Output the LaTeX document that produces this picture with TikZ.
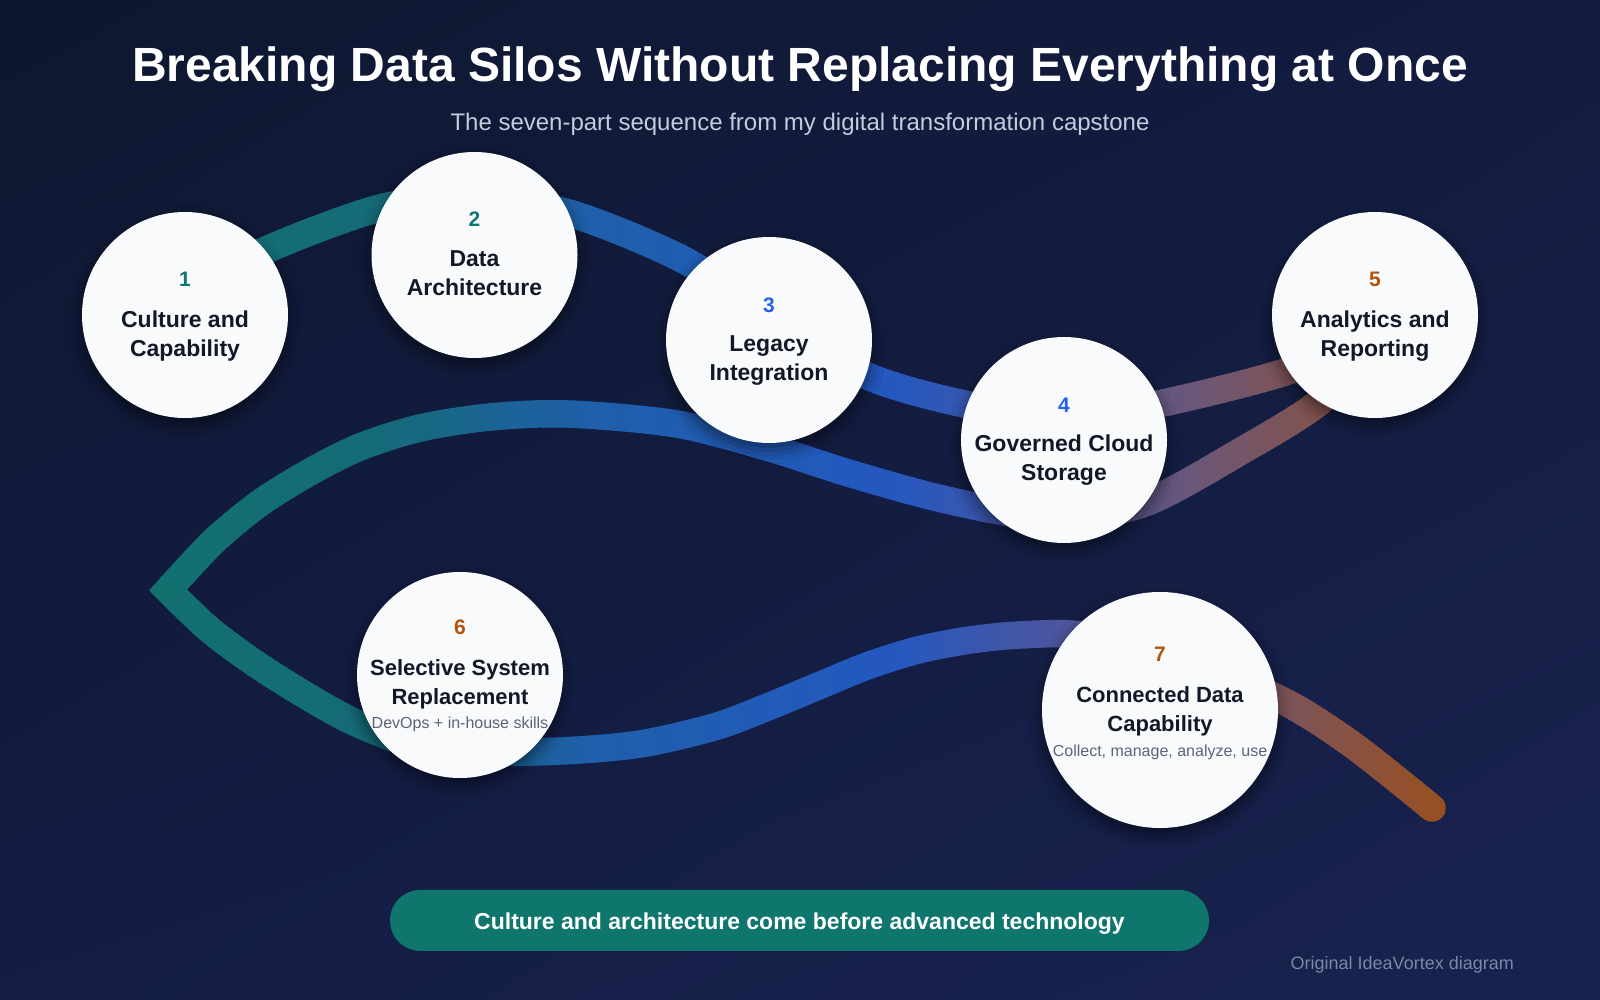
\documentclass[tikz,border=0pt]{standalone}
\usepackage{fontspec}
\setmainfont{Liberation Sans}
\usetikzlibrary{calc,shadows.blur,shadings}
\definecolor{gA}{HTML}{11726E}
\definecolor{gB}{HTML}{156A78}
\definecolor{gC}{HTML}{1F5FAB}
\definecolor{gD}{HTML}{2458C0}
\definecolor{gE}{HTML}{4A55A0}
\definecolor{gF}{HTML}{6E5672}
\definecolor{gG}{HTML}{9C4F1C}
\definecolor{bgA}{HTML}{0E172F}
\definecolor{bgB}{HTML}{131C40}
\definecolor{bgC}{HTML}{131D45}
\definecolor{bgD}{HTML}{18234F}
\definecolor{cfill}{HTML}{F8FAFC}
\definecolor{ink}{HTML}{111827}
\definecolor{subc}{HTML}{5B6478}
\definecolor{numteal}{HTML}{0F766E}
\definecolor{numblue}{HTML}{2563EB}
\definecolor{numorange}{HTML}{B45309}
\definecolor{bannerc}{HTML}{0F766E}
\definecolor{subtitlec}{HTML}{C4CCDD}
\definecolor{footc}{HTML}{7C86A6}
\tikzset{
  wavestyle/.style={line width=27.5, line cap=round},
  circ/.style={circle, fill=cfill, inner sep=0pt, minimum size=206,
    blur shadow={shadow xshift=0pt, shadow yshift=-7pt, shadow blur radius=14pt, shadow opacity=50}},
  numf/.style={anchor=base, inner sep=0pt, font=\bfseries\fontsize{21}{21}\selectfont},
  ttl/.style={anchor=base, inner sep=0pt, text=ink, font=\bfseries\fontsize{23}{23}\selectfont},
  ttls/.style={anchor=base, inner sep=0pt, text=ink, font=\bfseries\fontsize{22}{22}\selectfont},
  subl/.style={anchor=base, inner sep=0pt, text=subc, font=\fontsize{16}{16}\selectfont},
}
\newcommand\wavelines[1]{%
  \draw[wavestyle, #1] plot[smooth] coordinates {(195,290) (266,250) (380,208) (475,197) (572,214) (680,258) (769,314) (865,375) (969,405) (1064,417) (1158,404) (1282,373) (1372,338)};
  \draw[wavestyle, #1, line join=miter] plot[smooth] coordinates {(1372,340) (1322,400) (1243,450) (1145,503) (1060,518) (1005,512) (930,496) (845,472) (770,448) (677,424) (568,414) (490,417) (420,428) (360,447) (310,472) (260,503) (214,541) (168,590)}
    -- plot[smooth] coordinates {(171,593) (210,630) (256,664) (305,695) (350,720) (400,740) (460,752) (560,751) (640,744) (714,727) (765,708) (816,687) (867,666) (918,650) (970,640) (1020,635) (1080,635) (1160,655) (1275,697) (1350,743) (1432,808)};
}
\begin{document}
\begin{tikzpicture}[x=1pt,y=-1pt]
\useasboundingbox (0,0) rectangle (1600,1000);
\shade[upper left=bgA, upper right=bgB, lower left=bgC, lower right=bgD] (0,0) rectangle (1600,1000);
% gradient path drawn in vertical strips
\foreach \xa/\xb/\colL/\colR in {130/380/gA/gB, 380/590/gB/gC, 590/890/gC/gD, 890/1050/gD/gE, 1050/1210/gE/gF, 1210/1460/gF/gG}{
  \pgfmathtruncatemacro\nstr{ceil((\xb-\xa)/8)}
  \foreach \k in {1,...,\nstr}{
    \pgfmathsetmacro\sxa{\xa+(\k-1)*(\xb-\xa)/\nstr}
    \pgfmathsetmacro\sxb{\xa+\k*(\xb-\xa)/\nstr}
    \pgfmathsetmacro\mixp{100*(\k-0.5)/\nstr}
    \colorlet{sc}{\colR!\mixp!\colL}
    \begin{scope}
      \clip (\sxa-0.8,-10) rectangle (\sxb+0.8,1010);
      \wavelines{sc}
    \end{scope}
  }
}
% title
\node[anchor=base, inner sep=0pt, text=white, font=\bfseries\fontsize{48}{48}\selectfont] (title) at (800,81.5) {Breaking Data Silos Without Replacing Everything at Once};
\node[anchor=base, inner sep=0pt, text=subtitlec, font=\fontsize{24}{24}\selectfont] (subtitle) at (800,130.5) {The seven-part sequence from my digital transformation capstone};
% circles
\node[circ] (c1) at (185,315) {};
\node[circ] (c2) at (474.5,255) {};
\node[circ] (c3) at (769,340) {};
\node[circ] (c4) at (1064,440) {};
\node[circ] (c5) at (1375,315) {};
\node[circ] (c6) at (460,675) {};
\node[circ, minimum size=236] (c7) at (1160,710) {};
% texts
\node[numf, text=numteal] (n1) at ($(c1)+(0,-28)$) {1};
\node[ttl] (t1a) at ($(c1)+(0,12)$) {Culture and};
\node[ttl] (t1b) at ($(c1)+(0,41)$) {Capability};
\node[numf, text=numteal] (n2) at ($(c2)+(0,-28)$) {2};
\node[ttl] (t2a) at ($(c2)+(0,11)$) {Data};
\node[ttl] (t2b) at ($(c2)+(0,40.5)$) {Architecture};
\node[numf, text=numblue] (n3) at ($(c3)+(0,-28)$) {3};
\node[ttl] (t3a) at ($(c3)+(0,11)$) {Legacy};
\node[ttl] (t3b) at ($(c3)+(0,40.5)$) {Integration};
\node[numf, text=numblue] (n4) at ($(c4)+(0,-28)$) {4};
\node[ttl] (t4a) at ($(c4)+(0,11)$) {Governed Cloud};
\node[ttl] (t4b) at ($(c4)+(0,40.5)$) {Storage};
\node[numf, text=numorange] (n5) at ($(c5)+(0,-28)$) {5};
\node[ttl] (t5a) at ($(c5)+(0,12)$) {Analytics and};
\node[ttl] (t5b) at ($(c5)+(0,41)$) {Reporting};
\node[numf, text=numorange] (n6) at ($(c6)+(0,-41)$) {6};
\node[ttls] (t6a) at ($(c6)+(0,0.5)$) {Selective System};
\node[ttls] (t6b) at ($(c6)+(0,29)$) {Replacement};
\node[subl] (s6) at ($(c6)+(0,53)$) {DevOps + in-house skills};
\node[numf, text=numorange] (n7) at ($(c7)+(0,-49)$) {7};
\node[ttls] (t7a) at ($(c7)+(0,-7.5)$) {Connected Data};
\node[ttls] (t7b) at ($(c7)+(0,21)$) {Capability};
\node[subl] (s7) at ($(c7)+(0,46)$) {Collect, manage, analyze, use};
% banner
\node[fill=bannerc, rounded corners=30.5pt, minimum width=819, minimum height=61, inner sep=0pt] (banner) at (799.5,920.4) {};
\node[anchor=base, inner sep=0pt, text=white, font=\bfseries\fontsize{23}{23}\selectfont] (bannertext) at (799.5,929.5) {Culture and architecture come before advanced technology};
% footer
\node[anchor=base east, inner sep=0pt, text=footc, font=\fontsize{18}{18}\selectfont] (footer) at (1514,969.5) {Original IdeaVortex diagram};
\end{tikzpicture}
\end{document}
